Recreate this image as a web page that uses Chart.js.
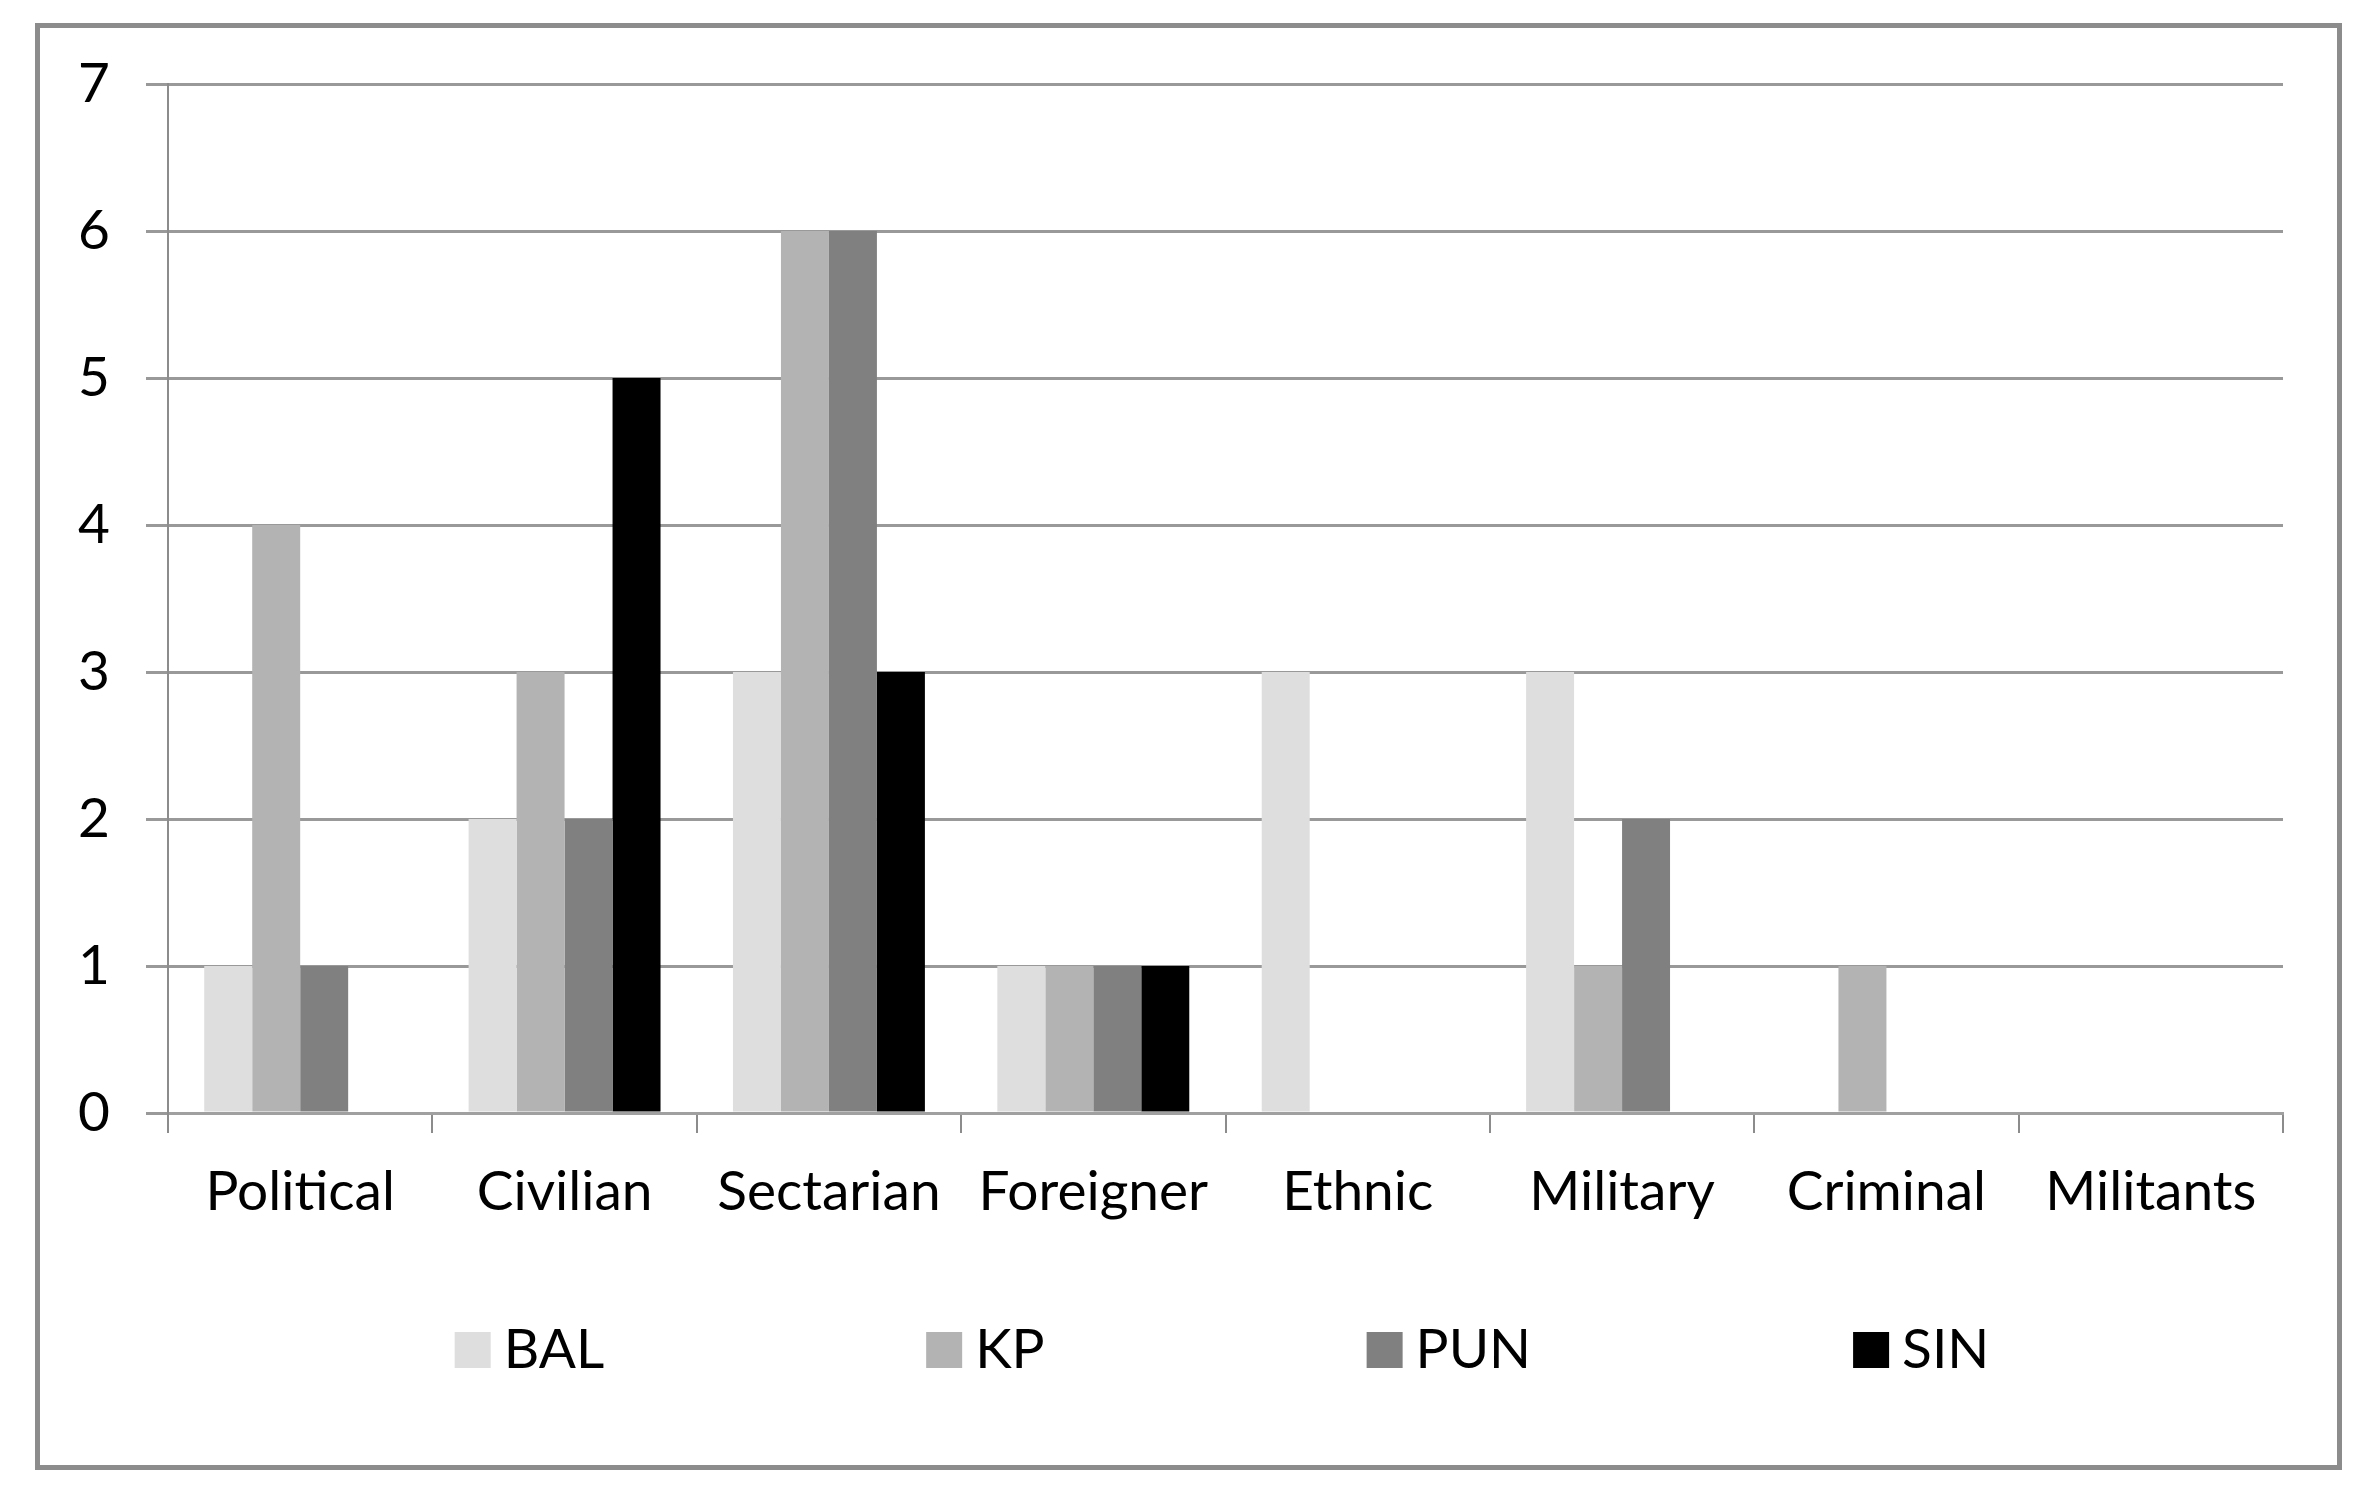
<!DOCTYPE html>
<html>
<head>
<meta charset="utf-8">
<title>Targets by province</title>
<script src="https://cdn.jsdelivr.net/npm/chart.js@4.4.1/dist/chart.umd.min.js"></script>
<style>
  html, body { margin: 0; padding: 0; background: #fff; }
  #frame {
    position: absolute;
    left: 35px; top: 23px;
    width: 2307px; height: 1447px;
    box-sizing: border-box;
    border: 5px solid #8c8c8c;
    background: #fff;
  }
  #chart { display: block; }
</style>
</head>
<body>
<div id="frame">
  <canvas id="chart" width="2297" height="1437"></canvas>
</div>
<script>
// categories along the x axis
const categories = ["Political", "Civilian", "Sectarian", "Foreigner", "Ethnic", "Military", "Criminal", "Militants"];

// one array per province
const bal = [1, 2, 3, 1, 3, 3, 0, 0];
const kp  = [4, 3, 6, 1, 0, 1, 1, 0];
const pun = [1, 2, 6, 1, 0, 2, 0, 0];
const sin = [0, 5, 3, 1, 0, 0, 0, 0];

const seriesNames = ["BAL", "KP", "PUN", "SIN"];
const yTicks = [0, 1, 2, 3, 4, 5, 6, 7];

const FONT = "Lato";
const FONT_SIZE = 55;

// legend drawn by hand so the spacing looks like the excel original
const bottomLegend = {
  id: "bottomLegend",
  afterDraw(chart) {
    const ctx = chart.ctx;
    const box = 36, gap = 13, itemGap = 322;
    const baseline = 1340, centerX = 1182;
    ctx.save();
    ctx.font = FONT_SIZE + "px " + FONT;
    const items = chart.data.datasets.map((ds) => ({
      label: ds.label,
      color: ds.backgroundColor,
      w: box + gap + ctx.measureText(ds.label).width,
    }));
    const total = items.reduce((s, it) => s + it.w, 0) + itemGap * (items.length - 1);
    let x = centerX - total / 2;
    ctx.textBaseline = "alphabetic";
    ctx.textAlign = "left";
    items.forEach((it) => {
      ctx.fillStyle = it.color;
      ctx.fillRect(x, baseline - box, box, box);
      ctx.fillStyle = "#000";
      ctx.fillText(it.label, x + box + gap, baseline);
      x += it.w + itemGap;
    });
    ctx.restore();
  },
};

const colors = ["#dedede", "#b3b3b3", "#808080", "#000000"];
const values = [bal, kp, pun, sin];

new Chart(document.getElementById("chart").getContext("2d"), {
  type: "bar",
  data: {
    labels: categories,
    datasets: seriesNames.map((name, i) => ({
      label: name,
      data: values[i],
      backgroundColor: colors[i],
      borderWidth: 0,
      categoryPercentage: 0.726,
      barPercentage: 1.0,
    })),
  },
  options: {
    responsive: false,
    animation: false,
    devicePixelRatio: 1,
    layout: { padding: { top: 56, right: 54, left: 0, bottom: 0 } },
    plugins: {
      legend: { display: false },
      tooltip: { enabled: false },
    },
    scales: {
      x: {
        offset: true,
        grid: {
          offset: true,
          drawOnChartArea: false,
          drawTicks: true,
          tickLength: 20,
          color: "#8c8c8c",
          lineWidth: 2,
        },
        border: { color: "#a0a0a0", width: 3 },
        ticks: {
          color: "#000",
          padding: 26,
          font: { family: FONT, size: FONT_SIZE },
          maxRotation: 0,
          autoSkip: false,
        },
        afterFit(scale) {
          scale.height = 1437 - 1085;
          scale.paddingLeft = 0;
          scale.paddingRight = 0;
        },
      },
      y: {
        min: 0,
        max: 7,
        afterBuildTicks(scale) { scale.ticks = yTicks.map((v) => ({ value: v })); },
        grid: {
          color: "#999999",
          lineWidth: 3,
          drawTicks: true,
          tickLength: 22,
        },
        border: { color: "#8c8c8c", width: 2 },
        ticks: {
          color: "#000",
          padding: 36,
          font: { family: FONT, size: FONT_SIZE },
        },
        afterFit(scale) {
          scale.width = 128;
          scale.paddingTop = 0;
          scale.paddingBottom = 0;
        },
      },
    },
  },
  plugins: [bottomLegend],
});
</script>
</body>
</html>
